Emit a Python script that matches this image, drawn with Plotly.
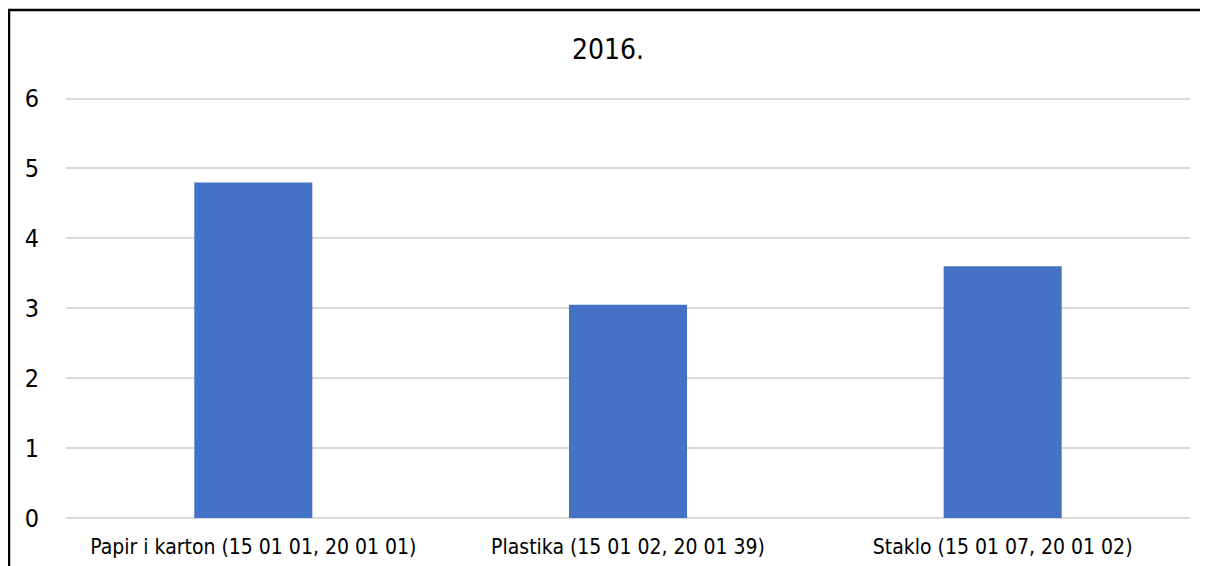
import plotly.graph_objects as go

categories = ["Papir i karton (15 01 01, 20 01 01)", "Plastika (15 01 02, 20 01 39)", "Staklo (15 01 07, 20 01 02)"]
values = [4.8, 3.05, 3.6]
title_text = "2016."
y_ticks = [0, 1, 2, 3, 4, 5, 6]

# page has an 8px body margin, so the figure is drawn at (8, 8)
W, H = 1200, 558
YMAX = 6.05
L, R, T, B = 58, 18, 90 - int(round((YMAX - 6) * 70)), 48
pw, ph = W - L - R, H - T - B
FONT = "DejaVu Sans Condensed, DejaVu Sans"

fig = go.Figure(go.Bar(x=categories, y=values, marker_color="#4472C4", marker_line_width=0))

fig.update_layout(
    width=W, height=H,
    margin=dict(l=L, r=R, t=T, b=B, autoexpand=False),
    paper_bgcolor="white", plot_bgcolor="white",
    bargap=0.685,
    showlegend=False,
    font=dict(family=FONT, color="#000000"),
    title=dict(text=title_text, x=0.5, xanchor="center", y=1 - 41 / H, yanchor="middle",
               font=dict(size=28, family=FONT, color="#000000")),
    xaxis=dict(showgrid=False, showline=False, ticks="", tickfont=dict(size=21),
               ticklabelstandoff=14, zeroline=False, automargin=False),
    yaxis=dict(range=[0, YMAX], tickvals=y_ticks, showgrid=True, gridcolor="#d9d9d9", gridwidth=1.5,
               zeroline=True, zerolinecolor="#d9d9d9", zerolinewidth=1.5, automargin=False,
               showline=False, ticks="", tickfont=dict(size=25), ticklabelstandoff=26),
)

fig.add_shape(type="rect", xref="paper", yref="paper",
              x0=(1 - L) / pw, x1=1.2, y0=-0.5, y1=(H - B - 2) / ph,
              line=dict(color="black", width=2.5), fillcolor="rgba(0,0,0,0)", layer="above")

fig.write_html("out.html")
